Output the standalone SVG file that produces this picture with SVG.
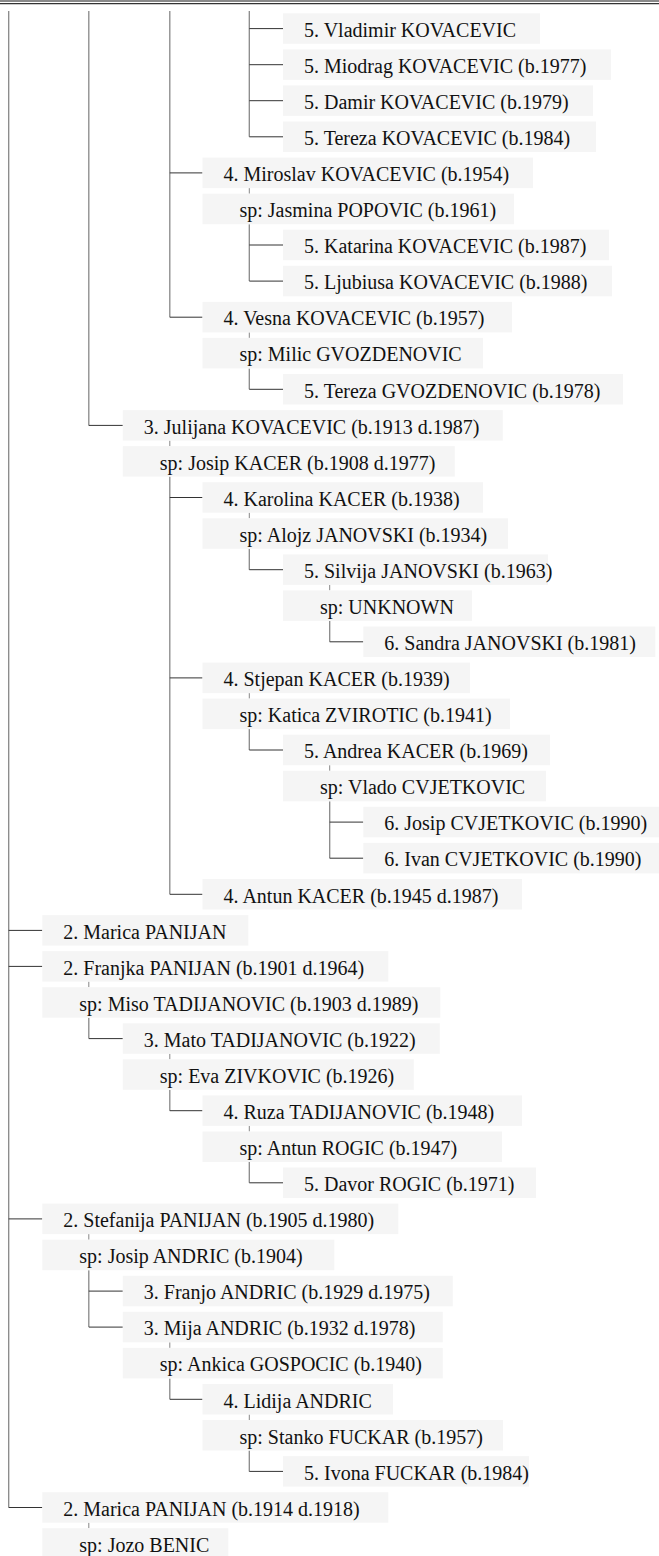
<svg xmlns="http://www.w3.org/2000/svg" width="659" height="1556" viewBox="0 0 659 1556">
<style>
.b{fill:#f5f5f5}
.t{font-family:"Liberation Serif","Times New Roman",serif;font-size:20px;fill:#111}
.v{stroke:#888;stroke-width:1.3;fill:none}
.k{stroke:#888;stroke-width:1;fill:none}
.h{stroke:#333;stroke-width:1;fill:none}
</style>
<rect x="0" y="0" width="659" height="1556" fill="#ffffff"/>
<rect x="0" y="0" width="659" height="2" fill="#8a8a8a"/>
<line x1="0" y1="3.6" x2="659" y2="3.6" stroke="#333" stroke-width="1.2"/>
<g id="connectors">
<!-- main verticals -->
<line class="v" x1="8.7" y1="11" x2="8.7" y2="1507.5"/>
<line class="v" x1="88.8" y1="11" x2="88.8" y2="425.4"/>
<line class="v" x1="169.8" y1="11" x2="169.8" y2="317.2"/>
<line class="v" x1="249.3" y1="11" x2="249.3" y2="136.8"/>
<!-- rows 0-3 -->
<line class="h" x1="249.3" y1="28.6" x2="283" y2="28.6"/>
<line class="h" x1="249.3" y1="64.7" x2="283" y2="64.7"/>
<line class="h" x1="249.3" y1="100.7" x2="283" y2="100.7"/>
<line class="h" x1="249.3" y1="136.8" x2="283" y2="136.8"/>
<!-- Miroslav -->
<line class="h" x1="169.8" y1="172.9" x2="202.5" y2="172.9"/>
<line class="k" x1="249.3" y1="188.1" x2="249.3" y2="193.7"/>
<line class="v" x1="249.3" y1="224.2" x2="249.3" y2="281.1"/>
<line class="h" x1="249.3" y1="245" x2="283" y2="245"/>
<line class="h" x1="249.3" y1="281.1" x2="283" y2="281.1"/>
<!-- Vesna -->
<line class="h" x1="169.8" y1="317.2" x2="202.5" y2="317.2"/>
<line class="k" x1="249.3" y1="332.4" x2="249.3" y2="337.9"/>
<line class="v" x1="249.3" y1="368.4" x2="249.3" y2="389.3"/>
<line class="h" x1="249.3" y1="389.3" x2="283" y2="389.3"/>
<!-- Julijana -->
<line class="h" x1="88.8" y1="425.4" x2="122.8" y2="425.4"/>
<line class="k" x1="169.8" y1="440.6" x2="169.8" y2="446.1"/>
<line class="v" x1="169.8" y1="476.6" x2="169.8" y2="894.3"/>
<line class="h" x1="169.8" y1="497.5" x2="202.5" y2="497.5"/>
<line class="h" x1="169.8" y1="677.9" x2="202.5" y2="677.9"/>
<line class="h" x1="169.8" y1="894.3" x2="202.5" y2="894.3"/>
<!-- Karolina -->
<line class="k" x1="249.3" y1="512.7" x2="249.3" y2="518.3"/>
<line class="v" x1="249.3" y1="548.8" x2="249.3" y2="569.7"/>
<line class="h" x1="249.3" y1="569.7" x2="283" y2="569.7"/>
<!-- Silvija -->
<line class="k" x1="329.7" y1="584.9" x2="329.7" y2="590.4"/>
<line class="v" x1="329.7" y1="620.9" x2="329.7" y2="641.8"/>
<line class="h" x1="329.7" y1="641.8" x2="363.3" y2="641.8"/>
<!-- Stjepan -->
<line class="k" x1="249.3" y1="693.1" x2="249.3" y2="698.6"/>
<line class="v" x1="249.3" y1="729.1" x2="249.3" y2="750"/>
<line class="h" x1="249.3" y1="750" x2="283" y2="750"/>
<!-- Andrea -->
<line class="k" x1="329.7" y1="765.2" x2="329.7" y2="770.8"/>
<line class="v" x1="329.7" y1="801.3" x2="329.7" y2="858.2"/>
<line class="h" x1="329.7" y1="822.1" x2="363.3" y2="822.1"/>
<line class="h" x1="329.7" y1="858.2" x2="363.3" y2="858.2"/>
<!-- level 2 -->
<line class="h" x1="8.7" y1="930.4" x2="42.3" y2="930.4"/>
<line class="h" x1="8.7" y1="966.4" x2="42.3" y2="966.4"/>
<line class="k" x1="88.8" y1="981.6" x2="88.8" y2="987.2"/>
<line class="v" x1="88.8" y1="1017.7" x2="88.8" y2="1038.6"/>
<line class="h" x1="88.8" y1="1038.6" x2="122.8" y2="1038.6"/>
<line class="k" x1="169.8" y1="1053.8" x2="169.8" y2="1059.3"/>
<line class="v" x1="169.8" y1="1089.8" x2="169.8" y2="1110.7"/>
<line class="h" x1="169.8" y1="1110.7" x2="202.5" y2="1110.7"/>
<line class="k" x1="249.3" y1="1125.9" x2="249.3" y2="1131.5"/>
<line class="v" x1="249.3" y1="1162" x2="249.3" y2="1182.8"/>
<line class="h" x1="249.3" y1="1182.8" x2="283" y2="1182.8"/>
<!-- Stefanija -->
<line class="h" x1="8.7" y1="1218.9" x2="42.3" y2="1218.9"/>
<line class="k" x1="88.8" y1="1234.1" x2="88.8" y2="1239.7"/>
<line class="v" x1="88.8" y1="1270.2" x2="88.8" y2="1327.1"/>
<line class="h" x1="88.8" y1="1291.1" x2="122.8" y2="1291.1"/>
<line class="h" x1="88.8" y1="1327.1" x2="122.8" y2="1327.1"/>
<line class="k" x1="169.8" y1="1342.3" x2="169.8" y2="1347.9"/>
<line class="v" x1="169.8" y1="1378.4" x2="169.8" y2="1399.3"/>
<line class="h" x1="169.8" y1="1399.3" x2="202.5" y2="1399.3"/>
<line class="k" x1="249.3" y1="1414.5" x2="249.3" y2="1420"/>
<line class="v" x1="249.3" y1="1450.5" x2="249.3" y2="1471.4"/>
<line class="h" x1="249.3" y1="1471.4" x2="283" y2="1471.4"/>
<!-- Marica 1914 -->
<line class="h" x1="8.7" y1="1507.5" x2="42.3" y2="1507.5"/>
<line class="k" x1="88.8" y1="1522.7" x2="88.8" y2="1528.2"/>
</g>
<g id="n0" transform="translate(283,13.3)"><rect class="b" width="257" height="30.5"/><text class="t" x="21" y="23.5">5. Vladimir KOVACEVIC</text></g>
<g id="n1" transform="translate(283,49.4)"><rect class="b" width="328" height="30.5"/><text class="t" x="21" y="23.5">5. Miodrag KOVACEVIC (b.1977)</text></g>
<g id="n2" transform="translate(283,85.4)"><rect class="b" width="310" height="30.5"/><text class="t" x="21" y="23.5">5. Damir KOVACEVIC (b.1979)</text></g>
<g id="n3" transform="translate(283,121.5)"><rect class="b" width="313" height="30.5"/><text class="t" x="21" y="23.5">5. Tereza KOVACEVIC (b.1984)</text></g>
<g id="n4" transform="translate(202.5,157.6)"><rect class="b" width="330.5" height="30.5"/><text class="t" x="21" y="23.5">4. Miroslav KOVACEVIC (b.1954)</text></g>
<g id="n5" transform="translate(202.5,193.7)"><rect class="b" width="311.5" height="30.5"/><text class="t" x="37" y="23.5">sp: Jasmina POPOVIC (b.1961)</text></g>
<g id="n6" transform="translate(283,229.7)"><rect class="b" width="326" height="30.5"/><text class="t" x="21" y="23.5">5. Katarina KOVACEVIC (b.1987)</text></g>
<g id="n7" transform="translate(283,265.8)"><rect class="b" width="329" height="30.5"/><text class="t" x="21" y="23.5">5. Ljubiusa KOVACEVIC (b.1988)</text></g>
<g id="n8" transform="translate(202.5,301.9)"><rect class="b" width="309.5" height="30.5"/><text class="t" x="21" y="23.5">4. Vesna KOVACEVIC (b.1957)</text></g>
<g id="n9" transform="translate(202.5,337.9)"><rect class="b" width="280.5" height="30.5"/><text class="t" x="37" y="23.5">sp: Milic GVOZDENOVIC</text></g>
<g id="n10" transform="translate(283,374)"><rect class="b" width="340" height="30.5"/><text class="t" x="21" y="23.5">5. Tereza GVOZDENOVIC (b.1978)</text></g>
<g id="n11" transform="translate(122.8,410.1)"><rect class="b" width="380" height="30.5"/><text class="t" x="21" y="23.5">3. Julijana KOVACEVIC (b.1913 d.1987)</text></g>
<g id="n12" transform="translate(122.8,446.1)"><rect class="b" width="332" height="30.5"/><text class="t" x="37" y="23.5">sp: Josip KACER (b.1908 d.1977)</text></g>
<g id="n13" transform="translate(202.5,482.2)"><rect class="b" width="280.5" height="30.5"/><text class="t" x="21" y="23.5">4. Karolina KACER (b.1938)</text></g>
<g id="n14" transform="translate(202.5,518.3)"><rect class="b" width="305.5" height="30.5"/><text class="t" x="37" y="23.5">sp: Alojz JANOVSKI (b.1934)</text></g>
<g id="n15" transform="translate(283,554.4)"><rect class="b" width="265" height="30.5"/><text class="t" x="21" y="23.5">5. Silvija JANOVSKI (b.1963)</text></g>
<g id="n16" transform="translate(283,590.4)"><rect class="b" width="189" height="30.5"/><text class="t" x="37" y="23.5">sp: UNKNOWN</text></g>
<g id="n17" transform="translate(363.3,626.5)"><rect class="b" width="292" height="30.5"/><text class="t" x="21" y="23.5">6. Sandra JANOVSKI (b.1981)</text></g>
<g id="n18" transform="translate(202.5,662.6)"><rect class="b" width="267.5" height="30.5"/><text class="t" x="21" y="23.5">4. Stjepan KACER (b.1939)</text></g>
<g id="n19" transform="translate(202.5,698.6)"><rect class="b" width="307.5" height="30.5"/><text class="t" x="37" y="23.5">sp: Katica ZVIROTIC (b.1941)</text></g>
<g id="n20" transform="translate(283,734.7)"><rect class="b" width="267" height="30.5"/><text class="t" x="21" y="23.5">5. Andrea KACER (b.1969)</text></g>
<g id="n21" transform="translate(283,770.8)"><rect class="b" width="263" height="30.5"/><text class="t" x="37" y="23.5">sp: Vlado CVJETKOVIC</text></g>
<g id="n22" transform="translate(363.3,806.8)"><rect class="b" width="300" height="30.5"/><text class="t" x="21" y="23.5">6. Josip CVJETKOVIC (b.1990)</text></g>
<g id="n23" transform="translate(363.3,842.9)"><rect class="b" width="300" height="30.5"/><text class="t" x="21" y="23.5">6. Ivan CVJETKOVIC (b.1990)</text></g>
<g id="n24" transform="translate(202.5,879)"><rect class="b" width="319.5" height="30.5"/><text class="t" x="21" y="23.5">4. Antun KACER (b.1945 d.1987)</text></g>
<g id="n25" transform="translate(42.3,915.1)"><rect class="b" width="206" height="30.5"/><text class="t" x="21" y="23.5">2. Marica PANIJAN</text></g>
<g id="n26" transform="translate(42.3,951.1)"><rect class="b" width="346" height="30.5"/><text class="t" x="21" y="23.5">2. Franjka PANIJAN (b.1901 d.1964)</text></g>
<g id="n27" transform="translate(42.3,987.2)"><rect class="b" width="398" height="30.5"/><text class="t" x="37" y="23.5">sp: Miso TADIJANOVIC (b.1903 d.1989)</text></g>
<g id="n28" transform="translate(122.8,1023.3)"><rect class="b" width="317" height="30.5"/><text class="t" x="21" y="23.5">3. Mato TADIJANOVIC (b.1922)</text></g>
<g id="n29" transform="translate(122.8,1059.3)"><rect class="b" width="291" height="30.5"/><text class="t" x="37" y="23.5">sp: Eva ZIVKOVIC (b.1926)</text></g>
<g id="n30" transform="translate(202.5,1095.4)"><rect class="b" width="319.5" height="30.5"/><text class="t" x="21" y="23.5">4. Ruza TADIJANOVIC (b.1948)</text></g>
<g id="n31" transform="translate(202.5,1131.5)"><rect class="b" width="299.5" height="30.5"/><text class="t" x="37" y="23.5">sp: Antun ROGIC (b.1947)</text></g>
<g id="n32" transform="translate(283,1167.5)"><rect class="b" width="253" height="30.5"/><text class="t" x="21" y="23.5">5. Davor ROGIC (b.1971)</text></g>
<g id="n33" transform="translate(42.3,1203.6)"><rect class="b" width="356" height="30.5"/><text class="t" x="21" y="23.5">2. Stefanija PANIJAN (b.1905 d.1980)</text></g>
<g id="n34" transform="translate(42.3,1239.7)"><rect class="b" width="292" height="30.5"/><text class="t" x="37" y="23.5">sp: Josip ANDRIC (b.1904)</text></g>
<g id="n35" transform="translate(122.8,1275.8)"><rect class="b" width="330" height="30.5"/><text class="t" x="21" y="23.5">3. Franjo ANDRIC (b.1929 d.1975)</text></g>
<g id="n36" transform="translate(122.8,1311.8)"><rect class="b" width="320" height="30.5"/><text class="t" x="21" y="23.5">3. Mija ANDRIC (b.1932 d.1978)</text></g>
<g id="n37" transform="translate(122.8,1347.9)"><rect class="b" width="320" height="30.5"/><text class="t" x="37" y="23.5">sp: Ankica GOSPOCIC (b.1940)</text></g>
<g id="n38" transform="translate(202.5,1384)"><rect class="b" width="190.5" height="30.5"/><text class="t" x="21" y="23.5">4. Lidija ANDRIC</text></g>
<g id="n39" transform="translate(202.5,1420)"><rect class="b" width="300.5" height="30.5"/><text class="t" x="37" y="23.5">sp: Stanko FUCKAR (b.1957)</text></g>
<g id="n40" transform="translate(283,1456.1)"><rect class="b" width="246" height="30.5"/><text class="t" x="21" y="23.5">5. Ivona FUCKAR (b.1984)</text></g>
<g id="n41" transform="translate(42.3,1492.2)"><rect class="b" width="346" height="30.5"/><text class="t" x="21" y="23.5">2. Marica PANIJAN (b.1914 d.1918)</text></g>
<g id="n42" transform="translate(42.3,1528.2)"><rect class="b" width="186" height="30.5"/><text class="t" x="37" y="23.5">sp: Jozo BENIC</text></g>
</svg>
